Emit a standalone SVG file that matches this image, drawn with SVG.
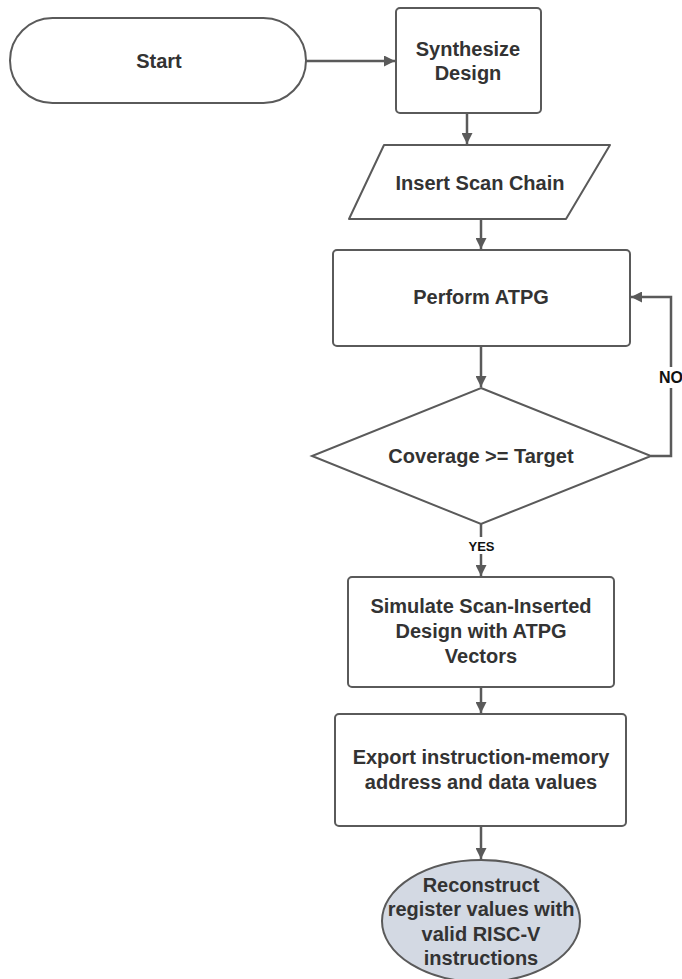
<svg xmlns="http://www.w3.org/2000/svg" width="682" height="979" viewBox="0 0 682 979">
<style>
.s{fill:#fff;stroke:#5a5a5a;stroke-width:2}
.t{font-family:"Liberation Sans",Arial,sans-serif;font-weight:bold;font-size:20px;fill:#333;text-anchor:middle;dominant-baseline:central}
.c{fill:none;stroke:#5a5a5a;stroke-width:2.5}
.l{font-family:"Liberation Sans",Arial,sans-serif;font-weight:bold;fill:#111;dominant-baseline:central}
</style>
<defs>
<marker id="a" viewBox="0 0 10 10" refX="10" refY="5" markerWidth="4.4" markerHeight="4.4" orient="auto" markerUnits="strokeWidth">
<path d="M0,0 L10,5 L0,10 z" fill="#5a5a5a"/>
</marker>
</defs>
<rect width="682" height="979" fill="#fff"/>
<g id="connectors">
<path class="c" d="M306,61 H395" marker-end="url(#a)"/>
<path class="c" d="M467,113 V144" marker-end="url(#a)"/>
<path class="c" d="M481,219 V249" marker-end="url(#a)"/>
<path class="c" d="M481,346 V387" marker-end="url(#a)"/>
<path class="c" d="M651,456 H671 V297 H631" marker-end="url(#a)"/>
<path class="c" d="M481,524 V576" marker-end="url(#a)"/>
<path class="c" d="M481,687 V713" marker-end="url(#a)"/>
<path class="c" d="M481,826 V859" marker-end="url(#a)"/>
<rect x="658" y="367" width="24" height="21" fill="#fff"/>
<text class="l" x="659" y="377" font-size="16">NO</text>
<rect x="466" y="537" width="31" height="17" fill="#fff"/>
<text class="l" x="481.5" y="546" font-size="13" text-anchor="middle">YES</text>
</g>
<g id="start">
<rect class="s" x="10" y="18" width="296" height="85" rx="42.5"/>
<text class="t" x="159" y="61">Start</text>
</g>
<g id="synthesize">
<rect class="s" x="396" y="8" width="145" height="105" rx="4"/>
<text class="t" x="468" y="49">Synthesize</text>
<text class="t" x="468" y="73">Design</text>
</g>
<g id="insert">
<path class="s" d="M384,145 H610 L566,219 H349 Z" stroke-linejoin="round"/>
<text class="t" x="480" y="183">Insert Scan Chain</text>
</g>
<g id="atpg">
<rect class="s" x="333" y="250" width="297" height="96" rx="4"/>
<text class="t" x="481" y="297">Perform ATPG</text>
</g>
<g id="coverage">
<path class="s" d="M481,388 L651,456 L481,524 L312,456 Z"/>
<text class="t" x="481" y="456">Coverage &gt;= Target</text>
</g>
<g id="simulate">
<rect class="s" x="348" y="577" width="266" height="110" rx="4"/>
<text class="t" x="481" y="606">Simulate Scan-Inserted</text>
<text class="t" x="481" y="631">Design with ATPG</text>
<text class="t" x="481" y="656">Vectors</text>
</g>
<g id="export">
<rect class="s" x="335" y="714" width="291" height="112" rx="4"/>
<text class="t" x="481" y="757">Export instruction-memory</text>
<text class="t" x="481" y="782">address and data values</text>
</g>
<g id="reconstruct">
<ellipse cx="481" cy="921" rx="99" ry="61" fill="#d3d9e3" stroke="#5a5a5a" stroke-width="2"/>
<text class="t" x="481" y="885">Reconstruct</text>
<text class="t" x="481" y="909">register values with</text>
<text class="t" x="481" y="934">valid RISC-V</text>
<text class="t" x="481" y="958">instructions</text>
</g>
</svg>
